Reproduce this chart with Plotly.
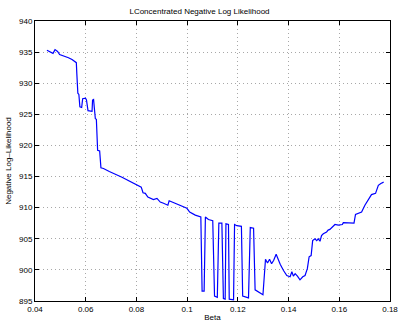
import plotly.graph_objects as go

beta = [0.0447, 0.0460, 0.0471, 0.0479, 0.0489, 0.0497, 0.0513, 0.0532, 0.0546, 0.0556,
        0.0563, 0.0565, 0.0569, 0.0573, 0.0577, 0.0584, 0.0588, 0.0599, 0.0603, 0.0609,
        0.0625, 0.0627, 0.0631, 0.0634, 0.0638, 0.0642, 0.0647, 0.0655, 0.0660, 0.0670,
        0.0693, 0.0743, 0.0782, 0.0808, 0.0819, 0.0826, 0.0835, 0.0845, 0.0854, 0.0867,
        0.0881, 0.0887, 0.0894, 0.0907, 0.0924, 0.0929, 0.0946, 0.0973, 0.0999, 0.1010,
        0.1019, 0.1032, 0.1054, 0.1059, 0.1067, 0.1072, 0.1084, 0.1101, 0.1108, 0.1119,
        0.1125, 0.1137, 0.1143, 0.1150, 0.1153, 0.1163, 0.1166, 0.1183, 0.1187, 0.1196,
        0.1214, 0.1219, 0.1242, 0.1249, 0.1262, 0.1268, 0.1299, 0.1309, 0.1317, 0.1325,
        0.1333, 0.1341, 0.1351, 0.1360, 0.1367, 0.1380, 0.1393, 0.1406, 0.1413, 0.1419,
        0.1426, 0.1435, 0.1445, 0.1456, 0.1465, 0.1474, 0.1481, 0.1489, 0.1495, 0.1504,
        0.1511, 0.1517, 0.1524, 0.1530, 0.1537, 0.1550, 0.1556, 0.1563, 0.1572, 0.1583,
        0.1596, 0.1612, 0.1616, 0.1635, 0.1658, 0.1664, 0.1675, 0.1688, 0.1701, 0.1714,
        0.1727, 0.1743, 0.1754, 0.1764, 0.1775]
nll = [935.3, 935.0, 934.8, 935.4, 935.1, 934.6, 934.4, 934.1, 933.8, 933.5,
       933.3, 931.5, 928.4, 928.2, 926.2, 926.1, 927.5, 927.6, 927.3, 925.6,
       925.5, 927.3, 927.4, 926.0, 924.3, 924.2, 919.2, 919.1, 916.4, 916.3,
       915.8, 914.9, 914.1, 913.6, 913.3, 912.4, 912.3, 911.7, 911.5, 911.3,
       911.5, 911.2, 910.9, 910.7, 910.4, 911.1, 910.8, 910.4, 909.9, 909.3,
       909.1, 908.8, 908.5, 896.6, 896.6, 908.5, 908.1, 907.9, 895.8, 895.6,
       907.5, 907.5, 895.4, 895.3, 907.4, 907.3, 895.3, 895.2, 907.3, 907.1,
       907.0, 895.8, 895.5, 906.8, 906.7, 896.8, 896.0, 901.7, 901.1, 901.7,
       901.0, 901.5, 902.5, 901.4, 900.9, 899.9, 899.1, 898.9, 899.7, 899.0,
       899.4, 899.0, 898.4, 898.9, 899.1, 900.2, 902.1, 902.3, 904.7, 905.0,
       904.7, 905.0, 904.6, 905.5, 905.8, 906.1, 906.4, 906.5, 906.9, 907.3,
       907.2, 907.3, 907.6, 907.5, 907.5, 908.9, 909.1, 909.3, 910.4, 911.2,
       912.1, 912.3, 913.6, 913.9, 914.1]

x_ticks = [0.04, 0.06, 0.08, 0.1, 0.12, 0.14, 0.16, 0.18]
x_labels = ["0.04", "0.06", "0.08", "0.1", "0.12", "0.14", "0.16", "0.18"]
y_ticks = [895, 900, 905, 910, 915, 920, 925, 930, 935, 940]

fig = go.Figure()
fig.add_trace(go.Scatter(x=beta, y=nll, mode="lines",
                         line=dict(color="#0000ff", width=1.2), showlegend=False))

font = dict(family="Liberation Sans, Arial, sans-serif", size=8, color="black")
axis_common = dict(showline=True, linecolor="black", linewidth=1, mirror="ticks",
                   ticks="inside", ticklen=4, tickcolor="black",
                   showgrid=True, gridcolor="#a8a8a8", griddash="1px,3px", gridwidth=1,
                   zeroline=False, tickfont=font, automargin=False)
fig.update_layout(
    width=399, height=322,
    margin=dict(l=35, r=9, t=21, b=21),
    paper_bgcolor="white", plot_bgcolor="white",
    title=dict(text="LConcentrated Negative Log Likelihood", x=0.5, xanchor="center",
               y=0.966, yanchor="middle", font=dict(family="Liberation Sans, Arial, sans-serif", size=8, color="black")),
    font=font,
)
fig.update_xaxes(range=[0.04, 0.18], tickvals=x_ticks, ticktext=x_labels,
                 title=dict(text="Beta", font=font, standoff=2), **axis_common)
fig.update_yaxes(range=[895, 940], tickvals=y_ticks,
                 title=dict(text="Negative Log\u2013Likelihood", font=font, standoff=6), **axis_common)

fig.write_html("out.html")
